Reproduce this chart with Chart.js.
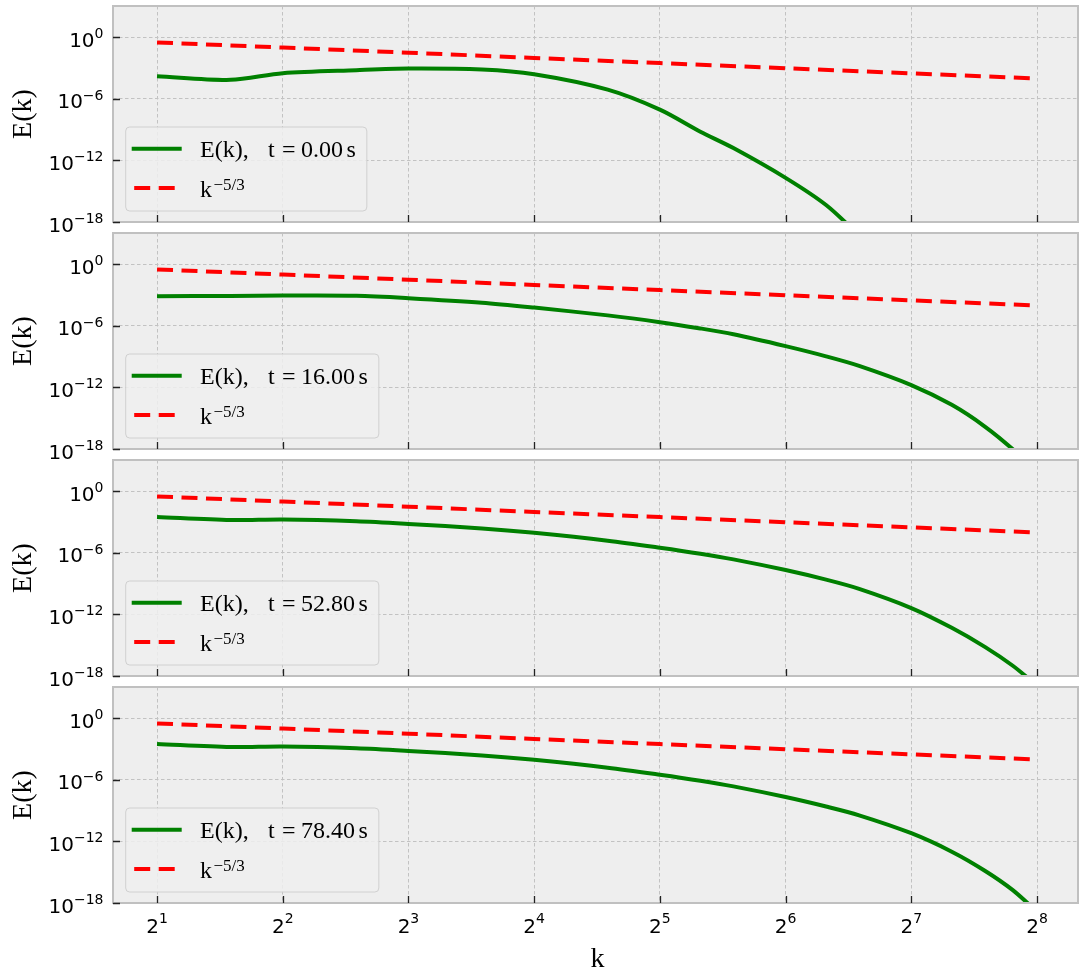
<!DOCTYPE html>
<html><head><meta charset="utf-8">
<script src="https://cdn.jsdelivr.net/npm/chart.js@4/dist/chart.umd.min.js"></script>
<style>
html,body{margin:0;padding:0;background:#fff;}
#wrap{position:relative;width:1081px;height:972px;overflow:hidden;}
#wrap canvas{position:absolute;left:0;}
</style></head>
<body><div id="wrap">
<canvas id="p0"></canvas><canvas id="p1"></canvas><canvas id="p2"></canvas><canvas id="p3"></canvas>
</div>
<script>
// ---- data ----
const kValues   = [2, 3, 4, 6, 8, 12, 16, 24, 32, 40, 48, 64, 80, 96, 128, 160, 192, 224, 256];
const energyT0  = [1.6e-4, 7.1e-5, 3.2e-4, 6.3e-4, 8.9e-4, 7.1e-4, 2.5e-4, 7.9e-6, 8.9e-8, 6.3e-10, 1.6e-11, 2.0e-14, 4.5e-17, 5.0e-20, null, null, null, null, null];
const energyT16 = [7.9e-4, 8.3e-4, 8.9e-4, 8.5e-4, 5.0e-4, 1.8e-4, 6.0e-5, 1.05e-5, 2.3e-6, 5.6e-7, 1.5e-7, 1.05e-8, 1.07e-9, 1.26e-10, 1.7e-12, 2.0e-14, 1.55e-16, 9.3e-19, 4.5e-21];
const energyT52 = [3.16e-3, 1.58e-3, 1.78e-3, 1.2e-3, 6.6e-4, 2.4e-4, 8.9e-5, 1.55e-5, 3.2e-6, 8.3e-7, 2.3e-7, 2.1e-8, 2.45e-9, 3.1e-10, 4.2e-12, 5.0e-14, 6.9e-16, 1.0e-17, 1.17e-19];
const energyT78 = [3.16e-3, 1.58e-3, 1.78e-3, 1.2e-3, 6.6e-4, 2.4e-4, 8.9e-5, 1.55e-5, 3.2e-6, 8.3e-7, 2.3e-7, 2.1e-8, 2.5e-9, 3.5e-10, 6.3e-12, 1.0e-13, 1.4e-15, 1.8e-17, 1.4e-19];
const refK      = [2, 4, 8, 16, 32, 64, 128, 256];
const refE      = [0.315, 0.0992, 0.03125, 0.00984, 0.0031, 0.000977, 0.000308, 0.0000969];
const timeLabels = ['0.00', '16.00', '52.80', '78.40'];
const yTickValues = [1, 1e-6, 1e-12, 1e-18];
const yTickExps   = ['0', '\u22126', '\u221212', '\u221218'];
const xTickValues = [2, 4, 8, 16, 32, 64, 128, 256];
const xTickExps   = ['1', '2', '3', '4', '5', '6', '7', '8'];
const xLimits = [1.569, 320.9];
const yLimits = [1e-18, 1.12e3];

// ---- layout ----
const areaTops = [6, 233, 460, 687];
const areaH = 216;
const SANS = '"DejaVu Sans", sans-serif';
const SERIF = '"Liberation Serif", "DejaVu Serif", serif';
const seriesList = [energyT0, energyT16, energyT52, energyT78];

function drawPow(ctx, base, exp, x, baseY, expDy, align, bSize, eSize) {
  ctx.font = bSize + 'px ' + SANS;
  const wb = ctx.measureText(base).width;
  ctx.font = eSize + 'px ' + SANS;
  const we = ctx.measureText(exp).width;
  const total = wb + we;
  let x0 = align === 'right' ? x - total : x - total / 2;
  ctx.fillStyle = '#000';
  ctx.textAlign = 'left';
  ctx.textBaseline = 'alphabetic';
  ctx.font = bSize + 'px ' + SANS;
  ctx.fillText(base, x0, baseY);
  ctx.font = eSize + 'px ' + SANS;
  ctx.fillText(exp, x0 + wb, baseY - expDy);
}

function makePanelPlugin(idx) {
  return {
    id: 'panel' + idx,
    beforeDraw(chart) {
      const a = chart.chartArea, ctx = chart.ctx;
      ctx.save();
      ctx.fillStyle = '#eeeeee';
      ctx.fillRect(a.left, a.top, a.right - a.left, a.bottom - a.top);
      ctx.restore();
    },
    afterDraw(chart) {
      const a = chart.chartArea, ctx = chart.ctx;
      const xs = chart.scales.x, ys = chart.scales.y;
      ctx.save();
      // frame
      ctx.strokeStyle = '#c0c0c0';
      ctx.lineWidth = 2;
      ctx.strokeRect(a.left, a.top, a.right - a.left, a.bottom - a.top);
      // inward ticks
      ctx.strokeStyle = '#222';
      ctx.lineWidth = 1.3;
      ctx.beginPath();
      xTickValues.forEach(v => {
        const px = Math.round(xs.getPixelForValue(v)) + 0.5;
        ctx.moveTo(px, a.bottom); ctx.lineTo(px, a.bottom - 7);
      });
      yTickValues.forEach(v => {
        const py = Math.round(ys.getPixelForValue(v)) + 0.5;
        ctx.moveTo(a.left, py); ctx.lineTo(a.left + 7, py);
      });
      ctx.stroke();
      // y tick labels
      yTickValues.forEach((v, i) => {
        const py = ys.getPixelForValue(v);
        drawPow(ctx, '10', yTickExps[i], 103.5, py + 9.5, 8.5, 'right', 20, 14);
      });
      // x tick labels (bottom panel only)
      if (idx === 3) {
        xTickValues.forEach((v, i) => {
          const px = xs.getPixelForValue(v);
          drawPow(ctx, '2', xTickExps[i], px, a.bottom + 29.5, 10, 'center', 20, 14);
        });
        ctx.font = '28px ' + SERIF;
        ctx.textAlign = 'center';
        ctx.textBaseline = 'alphabetic';
        ctx.fillStyle = '#000';
        ctx.fillText('k', (a.left + a.right) / 2 + 2, a.bottom + 64);
      }
      // y axis title
      ctx.save();
      ctx.translate(24, (a.top + a.bottom) / 2);
      ctx.rotate(-Math.PI / 2);
      ctx.font = '28px ' + SERIF;
      ctx.textAlign = 'center';
      ctx.textBaseline = 'middle';
      ctx.fillStyle = '#000';
      ctx.fillText('E(k)', 0, 0);
      ctx.restore();
      // legend
      const fs = 24;
      ctx.font = fs + 'px ' + SERIF;
      const tl = timeLabels[idx];
      const numW = ctx.measureText(tl).width;
      const sW = ctx.measureText('s').width;
      const boxL = a.left + 12.7;
      const boxB = a.bottom - 11;
      const boxT = boxB - 84;
      const x0 = boxL + 74.3;
      const numX = x0 + 101;
      const sX = numX + numW + 3.5;
      const boxR = sX + sW + 11;
      ctx.beginPath();
      if (ctx.roundRect) ctx.roundRect(boxL, boxT, boxR - boxL, boxB - boxT, 4);
      else ctx.rect(boxL, boxT, boxR - boxL, boxB - boxT);
      ctx.fillStyle = 'rgba(238,238,238,0.85)';
      ctx.fill();
      ctx.strokeStyle = '#d0d0d0';
      ctx.lineWidth = 1;
      ctx.stroke();
      // legend line samples
      const r1 = boxT + 21.7, r2 = boxT + 61;
      ctx.lineWidth = 4;
      ctx.strokeStyle = '#008000';
      ctx.lineCap = 'butt';
      ctx.beginPath(); ctx.moveTo(boxL + 6, r1); ctx.lineTo(boxL + 56, r1); ctx.stroke();
      ctx.strokeStyle = '#ff0000';
      ctx.setLineDash([16, 8.5]);
      ctx.beginPath(); ctx.moveTo(boxL + 8.5, r2); ctx.lineTo(boxL + 54, r2); ctx.stroke();
      ctx.setLineDash([]);
      // legend texts
      ctx.fillStyle = '#000';
      ctx.textAlign = 'left';
      ctx.textBaseline = 'alphabetic';
      ctx.font = fs + 'px ' + SERIF;
      ctx.fillText('E(k),', x0, r1 + 8.3);
      ctx.fillText('t', x0 + 68, r1 + 8.3);
      ctx.fillText('=', x0 + 82, r1 + 8.3);
      ctx.fillText(tl, numX, r1 + 8.3);
      ctx.fillText('s', sX, r1 + 8.3);
      ctx.fillText('k', x0, r2 + 9);
      const kW = ctx.measureText('k').width;
      ctx.font = '17px ' + SERIF;
      ctx.fillText('\u22125/3', x0 + kW + 1.5, r2 + 1.5);
      ctx.restore();
    }
  };
}

function makeChart(idx) {
  const canvas = document.getElementById('p' + idx);
  const bottomPad = idx === 3 ? 69 : 20;
  const h = 20 + areaH + bottomPad;
  canvas.width = 1081; canvas.height = h;
  canvas.style.width = '1081px'; canvas.style.height = h + 'px';
  canvas.style.top = (areaTops[idx] - 20) + 'px';
  const energy = seriesList[idx];
  new Chart(canvas, {
    type: 'line',
    data: {
      datasets: [
        {
          data: kValues.map((k, j) => ({x: k, y: energy[j]})),
          borderColor: '#008000', borderWidth: 4, pointRadius: 0,
          tension: 0.3, capBezierPoints: false,
          clip: 0, borderCapStyle: 'butt', borderJoinStyle: 'round', spanGaps: false
        },
        {
          data: refK.map((k, j) => ({x: k, y: refE[j]})),
          borderColor: '#ff0000', borderWidth: 4, borderDash: [16, 8.5], pointRadius: 0,
          tension: 0, clip: 0, borderCapStyle: 'butt'
        }
      ]
    },
    options: {
      responsive: false, animation: false, devicePixelRatio: 1,
      events: [],
      elements: {line: {capBezierPoints: false}},
      layout: {padding: {left: 113, right: 3, top: 20, bottom: bottomPad}},
      plugins: {legend: {display: false}, tooltip: {enabled: false}, title: {display: false}},
      scales: {
        x: {
          type: 'logarithmic', min: xLimits[0], max: xLimits[1],
          afterBuildTicks: s => { s.ticks = xTickValues.map(v => ({value: v})); },
          ticks: {display: false},
          grid: {color: '#c2c2c2', lineWidth: 1, drawTicks: false},
          border: {display: false, dash: [3.5, 2.5]}
        },
        y: {
          type: 'logarithmic', min: yLimits[0], max: yLimits[1],
          afterBuildTicks: s => { s.ticks = yTickValues.map(v => ({value: v})); },
          ticks: {display: false},
          grid: {color: '#c2c2c2', lineWidth: 1, drawTicks: false},
          border: {display: false, dash: [3.5, 2.5]}
        }
      }
    },
    plugins: [makePanelPlugin(idx)]
  });
}
[0, 1, 2, 3].forEach(makeChart);
</script>
</body></html>
